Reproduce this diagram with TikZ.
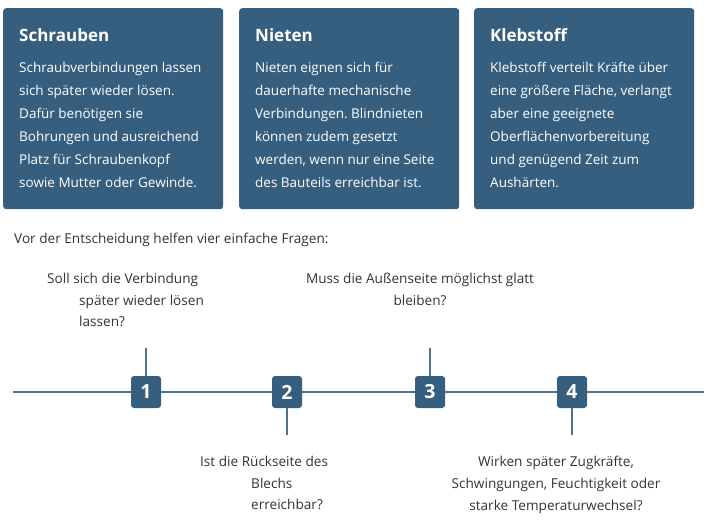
\documentclass[tikz,border=0pt]{standalone}
\usepackage{fontspec}
\setmainfont{Open Sans}
\usetikzlibrary{positioning}
\frenchspacing
\definecolor{cardblue}{HTML}{365E7F}
\definecolor{linegray}{HTML}{4D7191}
\definecolor{txtgray}{HTML}{333333}
\tikzset{
  card/.style={fill=cardblue, rounded corners=3pt, minimum width=220pt, minimum height=201pt, anchor=north west, inner sep=0pt},
  cardtitle/.style={text=white, font=\bfseries\fontsize{17}{19}\selectfont, anchor=north west, inner sep=0pt},
  cardtext/.style={text=white, font=\fontsize{13.5}{23}\selectfont, align=left, anchor=north west, inner sep=0pt},
  numbox/.style={fill=cardblue, rounded corners=3pt, minimum width=30pt, minimum height=32pt, inner sep=0pt, text=white, font=\bfseries\fontsize{19.5}{19.5}\selectfont},
  question/.style={text=txtgray, font=\fontsize{13.6}{21.7}\selectfont, inner sep=0pt},
  stem/.style={draw=linegray, line width=1.5pt},
}

\begin{document}
\begin{tikzpicture}[x=1pt, y=-1pt]
  \useasboundingbox (0,0) rectangle (711,522);

  % cards
  \node[card] (schrauben) at (3,8) {};
  \node[card] (nieten) at (239,8) {};
  \node[card] (klebstoff) at (474,8) {};

  \node[cardtitle] (schrauben-t) at (19,28) {Schrauben};
  \node[cardtitle] (nieten-t) at (255,28) {Nieten};
  \node[cardtitle] (klebstoff-t) at (490,28) {Klebstoff};

  \node[cardtext, below=20.5pt of schrauben-t.south west, anchor=north west] (schrauben-b)
    {Schraubverbindungen lassen\\sich später wieder lösen.\\Dafür benötigen sie\\Bohrungen und ausreichend\\Platz für Schraubenkopf\\sowie Mutter oder Gewinde.};
  \node[cardtext, below=20.5pt of nieten-t.south west, anchor=north west] (nieten-b)
    {Nieten eignen sich für\\dauerhafte mechanische\\Verbindungen. Blindnieten\\können zudem gesetzt\\werden, wenn nur eine Seite\\des Bauteils erreichbar ist.};
  \node[cardtext, below=20.5pt of klebstoff-t.south west, anchor=north west] (klebstoff-b)
    {Klebstoff verteilt Kräfte über\\eine größere Fläche, verlangt\\aber eine geeignete\\Oberflächenvorbereitung\\und genügend Zeit zum\\Aushärten.};

  \node[question, anchor=north west] (intro) at (14,233) {Vor der Entscheidung helfen vier einfache Fragen:};

  % timeline
  \coordinate (tl-start) at (13,392);
  \coordinate (tl-end) at (704,392);
  \draw[stem] (tl-start) -- (tl-end);

  \node[numbox] (n1) at (146,392) {1};
  \node[numbox] (n2) at (287,392) {2};
  \node[numbox] (n3) at (430,392) {3};
  \node[numbox] (n4) at (572,392) {4};

  \coordinate (s1) at (146,348);
  \coordinate (s2) at (287,435);
  \coordinate (s3) at (430,348);
  \coordinate (s4) at (572,435);
  \draw[stem] (n1.north) -- (s1);
  \draw[stem] (n2.south) -- (s2);
  \draw[stem] (n3.north) -- (s3);
  \draw[stem] (n4.south) -- (s4);

  % questions
  \node[question, align=left, anchor=north west] (q1) at (47,273)
    {Soll sich die Verbindung\\\hspace*{32pt}später wieder lösen\\\hspace*{32pt}lassen?};
  \node[question, align=center, anchor=north] (q3) at (420,273)
    {Muss die Außenseite möglichst glatt\\bleiben?};
  \node[question, align=left, anchor=north west] (q2) at (200,456)
    {Ist die Rückseite des\\\hspace*{51pt}Blechs\\\hspace*{51pt}erreichbar?};
  \node[question, align=center, anchor=north] (q4) at (556,456)
    {Wirken später Zugkräfte,\\Schwingungen, Feuchtigkeit oder\\starke Temperaturwechsel?};
\end{tikzpicture}
\end{document}
